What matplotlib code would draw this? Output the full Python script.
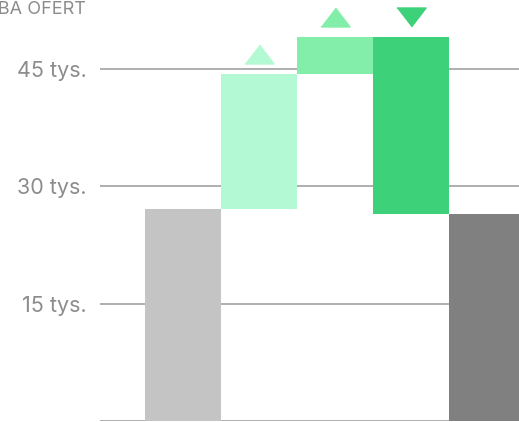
import numpy as np
import matplotlib
matplotlib.use("Agg")
import matplotlib.pyplot as plt

# waterfall data (thousands of offers)
steps = ["start", "wzrost 1", "wzrost 2", "spadek", "koniec"]
start_value = 27.1
changes = [17.3, 4.7, -22.6]
end_value = 26.5
tick_values = [15, 30, 45]
tick_labels = ["15 tys.", "30 tys.", "45 tys."]

bar_colors = ["#c4c4c4", "#b3f9d3", "#82eeaa", "#3dd179", "#808080"]

plt.rcParams['font.family'] = ['Inter', 'DejaVu Sans']

fig = plt.figure(figsize=(5.19, 4.22), dpi=100)
ax = fig.add_axes([100 / 519, 1 / 422, 1 - 100 / 519, 1 - 1 / 422])

# bottoms and heights of floating bars
levels = np.concatenate([[start_value], start_value + np.cumsum(changes)])
bottoms = [0]
heights = [start_value]
for i, c in enumerate(changes):
    lo = min(levels[i], levels[i + 1])
    bottoms.append(lo)
    heights.append(abs(c))
bottoms.append(0)
heights.append(end_value)

x = np.arange(len(steps))
ax.bar(x, heights, bottom=bottoms, width=1.0, color=bar_colors, zorder=3)

# arrow markers above change bars
up = [(-1, -0.65), (1, -0.65), (0, 0.65)]
down = [(-1, 0.65), (1, 0.65), (0, -0.65)]
for i, c in enumerate(changes):
    top = max(levels[i], levels[i + 1])
    ax.plot(x[i + 1], top + 2.6, marker=up if c > 0 else down,
            markersize=21, color=bar_colors[i + 1], clip_on=False, zorder=4)

ax.set_xlim(-1.092, 4.42)
ax.set_ylim(0, 53.85)
ax.set_yticks(tick_values)
ax.set_yticklabels(tick_labels)
ax.set_xticks([])
ax.tick_params(axis='y', length=0, pad=9.5, labelsize=15.5, labelcolor="#8c8c8c")
for v in [0] + tick_values:
    ax.axhline(v, color="#a8a8a8", lw=1.3, zorder=1)
for s in ax.spines.values():
    s.set_visible(False)

fig.text(86 / 519, 1 - 10 / 422, "LICZBA OFERT", ha='right', va='center',
         fontsize=13, color="#8c8c8c")

fig.savefig("out.png", dpi=100)
